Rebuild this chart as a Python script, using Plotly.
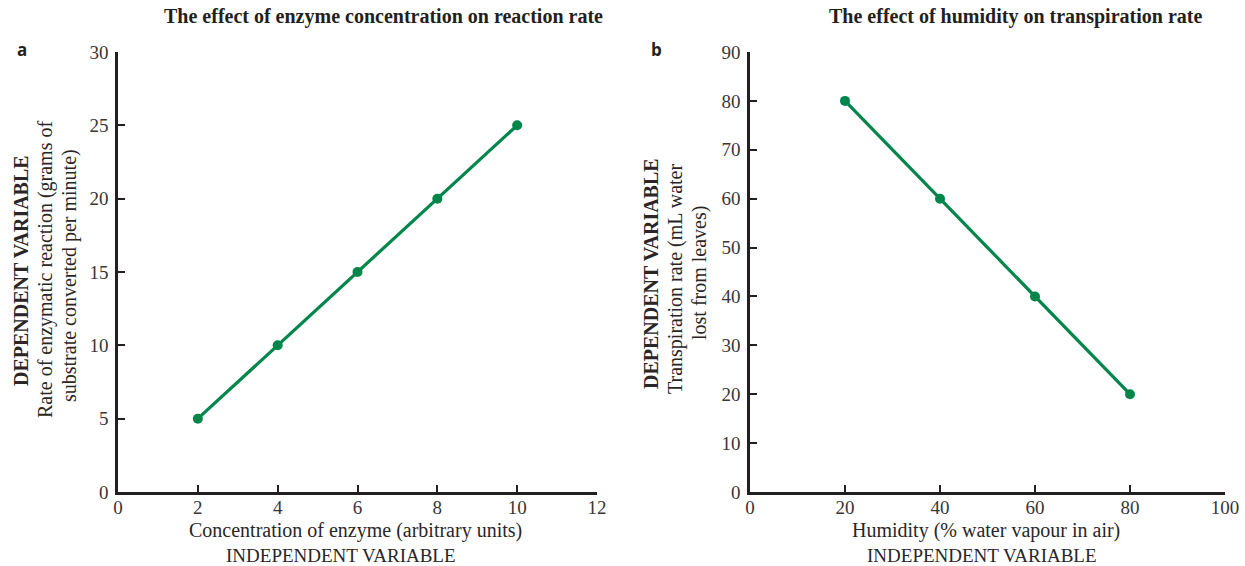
import plotly.graph_objects as go

# Data
enzyme_conc = [2, 4, 6, 8, 10]
reaction_rate = [5, 10, 15, 20, 25]
humidity = [20, 40, 60, 80]
transpiration = [80, 60, 40, 20]

left_xticks = [0, 2, 4, 6, 8, 10, 12]
left_yticks = [0, 5, 10, 15, 20, 25, 30]
right_xticks = [0, 20, 40, 60, 80, 100]
right_yticks = [0, 10, 20, 30, 40, 50, 60, 70, 80, 90]

W, H = 1245, 566
GREEN = "#00854a"
AX = "#231f20"
TXT = "#2a2627"
SERIF = "Liberation Serif, Times New Roman, serif"

def px(x):
    return x / W

def py(y):
    return 1 - y / H

fig = go.Figure()
fig.add_trace(go.Scatter(x=enzyme_conc, y=reaction_rate, mode="lines+markers",
                         line=dict(color=GREEN, width=3.2),
                         marker=dict(color=GREEN, size=10),
                         xaxis="x", yaxis="y", showlegend=False))
fig.add_trace(go.Scatter(x=humidity, y=transpiration, mode="lines+markers",
                         line=dict(color=GREEN, width=3.2),
                         marker=dict(color=GREEN, size=10),
                         xaxis="x2", yaxis="y2", showlegend=False))

axis_common = dict(showline=True, linecolor=AX, linewidth=2.5, ticks="inside",
                   ticklen=7, tickwidth=2.2, tickcolor=AX, showgrid=False, zeroline=False,
                   automargin=False,
                   tickfont=dict(family=SERIF, size=19, color="#3a3637"))

fig.update_layout(
    template="none",
    width=W, height=H,
    margin=dict(l=0, r=0, t=0, b=0, autoexpand=False),
    plot_bgcolor="white", paper_bgcolor="white",
    xaxis=dict(domain=[px(118), px(597)], range=[0, 12], tickvals=left_xticks,
               anchor="y", ticklabelstandoff=-4, **axis_common),
    yaxis=dict(domain=[py(492), py(52)], range=[0, 30], tickvals=left_yticks,
               anchor="x", ticklabelstandoff=3, **axis_common),
    xaxis2=dict(domain=[px(750), px(1225)], range=[0, 100], tickvals=right_xticks,
                anchor="y2", ticklabelstandoff=-4, **axis_common),
    yaxis2=dict(domain=[py(492), py(52)], range=[0, 90], tickvals=right_yticks,
                anchor="x2", ticklabelstandoff=3, **axis_common),
)

def ann(text, x, y, size=16, bold=False, angle=0, family=SERIF, color=TXT):
    fig.add_annotation(text=("<b>%s</b>" % text) if bold else text,
                       x=px(x), y=py(y), xref="paper", yref="paper",
                       showarrow=False, textangle=angle,
                       xanchor="center", yanchor="middle",
                       font=dict(family=family, size=size, color=color))

# Titles
ann("The effect of enzyme concentration on reaction rate", 383, 17, size=20, bold=True, color="#231f20")
ann("The effect of humidity on transpiration rate", 1015, 17, size=20, bold=True, color="#231f20")

# Panel letters
ann("a", 22, 50, size=17, bold=True, family="Open Sans, Arial, sans-serif", color="#231f20")
ann("b", 656, 50, size=17, bold=True, family="Open Sans, Arial, sans-serif", color="#231f20")

# Left y titles
ann("DEPENDENT VARIABLE", 21, 271, size=20, bold=True, angle=-90)
ann("Rate of enzymatic reaction (grams of", 45, 270, size=20, angle=-90)
ann("substrate converted per minute)", 69, 276, size=20, angle=-90)

# Left x titles
ann("Concentration of enzyme (arbitrary units)", 355, 530, size=20)
ann("INDEPENDENT VARIABLE", 341, 555, size=19)

# Right y titles
ann("DEPENDENT VARIABLE", 651, 274, size=20, bold=True, angle=-90)
ann("Transpiration rate (mL water", 675, 279, size=20, angle=-90)
ann("lost from leaves)", 699, 273, size=20, angle=-90)

# Right x titles
ann("Humidity (% water vapour in air)", 986, 530, size=20)
ann("INDEPENDENT VARIABLE", 982, 555, size=19)

fig.write_html("out.html")
